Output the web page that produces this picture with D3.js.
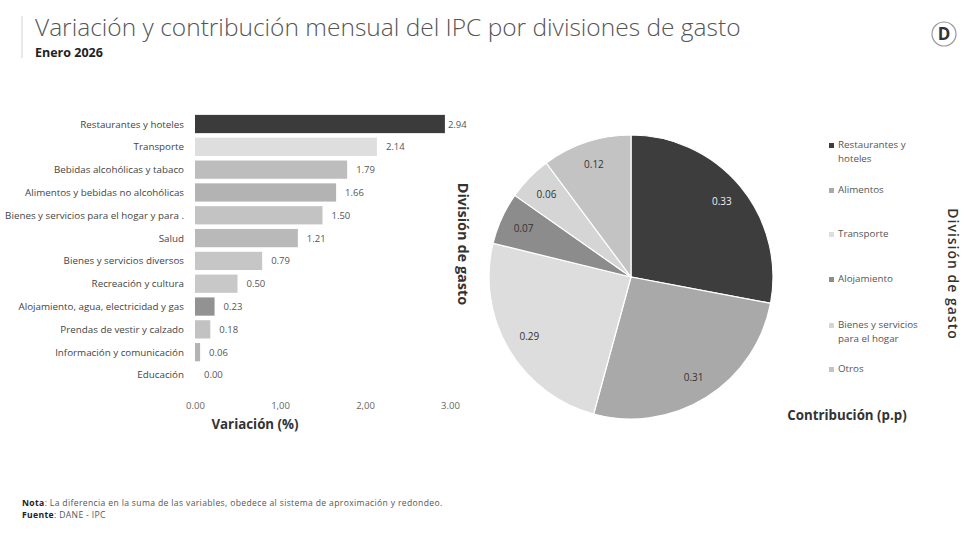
<!DOCTYPE html>
<html>
<head>
<meta charset="utf-8">
<script src="https://cdn.jsdelivr.net/npm/d3@7"></script>
<style>
  body { margin: 0; background: #fff; }
  svg { font-family: "Open Sans", "Noto Sans", sans-serif; }
</style>
</head>
<body>
<svg id="chart" width="964" height="544"></svg>
<script>
// bar chart: variación mensual (%)
const divisiones = [
  'Restaurantes y hoteles', 'Transporte', 'Bebidas alcohólicas y tabaco',
  'Alimentos y bebidas no alcohólicas', 'Bienes y servicios para el hogar y para .',
  'Salud', 'Bienes y servicios diversos', 'Recreación y cultura',
  'Alojamiento, agua, electricidad y gas', 'Prendas de vestir y calzado',
  'Información y comunicación', 'Educación'
]
const variacion = [2.94, 2.14, 1.79, 1.66, 1.50, 1.21, 0.79, 0.50, 0.23, 0.18, 0.06, 0.00]
const variacionLabels = ['2.94', '2.14', '1.79', '1.66', '1.50', '1.21', '0.79', '0.50', '0.23', '0.18', '0.06', '0.00']
const barColors = ['#3b3b3b', '#dedede', '#bdbdbd', '#b3b3b3', '#c3c3c3', '#b9b9b9',
  '#c6c6c6', '#c8c8c8', '#929292', '#c2c2c2', '#b3b3b3', '#c8c8c8']
const xTicks = [0, 1, 2, 3]
const xTickLabels = ['0.00', '1,00', '2,00', '3.00']

// pie chart: contribución (p.p)
const grupos = ['Restaurantes y hoteles', 'Alimentos', 'Transporte', 'Alojamiento', 'Bienes y servicios para el hogar', 'Otros']
const legendLines = [['Restaurantes y', 'hoteles'], ['Alimentos'], ['Transporte'], ['Alojamiento'], ['Bienes y servicios', 'para el hogar'], ['Otros']]
const contribucion = [0.33, 0.31, 0.29, 0.07, 0.06, 0.12]
const pieColors = ['#3d3d3d', '#a9a9a9', '#dddddd', '#8c8c8c', '#d5d5d5', '#c3c3c3']

const svg = d3.select('#chart')

// header
svg.append('line')
  .attr('x1', 22).attr('x2', 22).attr('y1', 16).attr('y2', 58)
  .attr('stroke', '#d0d0d0').attr('stroke-width', 1)
svg.append('text')
  .attr('x', 35).attr('y', 36)
  .attr('font-size', 24.5).attr('font-weight', 300).attr('fill', '#555')
  .text('Variación  y contribución mensual del IPC por divisiones de gasto')
svg.append('text')
  .attr('x', 35).attr('y', 57)
  .attr('font-size', 12.5).attr('font-weight', 700).attr('fill', '#222')
  .text('Enero 2026')

// logo
const logo = svg.append('g').attr('transform', 'translate(944,34)')
logo.append('circle').attr('r', 12).attr('fill', 'none').attr('stroke', '#999').attr('stroke-width', 1.2)
logo.append('text').attr('text-anchor', 'middle').attr('y', 6)
  .attr('font-size', 17).attr('font-weight', 700).attr('fill', '#333').text('D')

// bars
const x = d3.scaleLinear().domain([0, 3]).range([195, 450])
const y = d3.scaleBand().domain(divisiones).range([112.6, 386.4]).paddingInner(0.2).paddingOuter(0.1)

const bars = svg.append('g')
bars.selectAll('rect')
  .data(divisiones)
  .enter()
  .append('rect')
  .attr('x', x(0))
  .attr('y', d => y(d))
  .attr('width', (d, i) => x(variacion[i]) - x(0))
  .attr('height', y.bandwidth())
  .attr('fill', (d, i) => barColors[i])

bars.selectAll('.cat')
  .data(divisiones)
  .enter()
  .append('text')
  .attr('class', 'cat')
  .attr('x', 184)
  .attr('y', d => y(d) + y.bandwidth() / 2 + 3.5)
  .attr('text-anchor', 'end')
  .attr('font-size', 9.8)
  .attr('fill', '#444')
  .text(d => d)

bars.selectAll('.val')
  .data(divisiones)
  .enter()
  .append('text')
  .attr('class', 'val')
  .attr('x', (d, i) => x(variacion[i]) + (i === 0 ? 3 : 9))
  .attr('y', d => y(d) + y.bandwidth() / 2 + 3.5)
  .attr('font-size', 9.5)
  .attr('fill', '#555')
  .text((d, i) => variacionLabels[i])

const xAxis = d3.axisBottom(x).tickValues(xTicks).tickFormat((d, i) => xTickLabels[i]).tickSize(0)
svg.append('g')
  .attr('transform', 'translate(0,399)')
  .call(xAxis)
  .call(g => g.select('.domain').remove())
  .call(g => g.selectAll('text').attr('font-size', 9.5).attr('fill', '#666').attr('font-family', '"Open Sans", sans-serif'))

svg.append('text')
  .attr('x', 255).attr('y', 429)
  .attr('text-anchor', 'middle')
  .attr('font-size', 13.3).attr('font-weight', 700).attr('fill', '#333')
  .text('Variación (%)')

svg.append('text')
  .attr('transform', 'translate(458,244) rotate(90)')
  .attr('text-anchor', 'middle')
  .attr('font-size', 14.5).attr('font-weight', 700).attr('fill', '#333')
  .text('División de gasto')

// pie
const cx = 631
const cy = 277
const r = 142
const pie = d3.pie().sort(null).value(d => d)
const arc = d3.arc().innerRadius(0).outerRadius(r)
const labelArc = d3.arc().innerRadius(118).outerRadius(118)

const pieG = svg.append('g').attr('transform', `translate(${cx},${cy})`)
const arcs = pie(contribucion)
pieG.selectAll('path')
  .data(arcs)
  .enter()
  .append('path')
  .attr('d', arc)
  .attr('fill', (d, i) => pieColors[i])
  .attr('stroke', '#fff')
  .attr('stroke-width', 1.2)

pieG.selectAll('text')
  .data(arcs)
  .enter()
  .append('text')
  .attr('transform', d => `translate(${labelArc.centroid(d)})`)
  .attr('text-anchor', 'middle')
  .attr('dy', 3.5)
  .attr('font-size', 10)
  .attr('fill', (d, i) => i === 0 ? '#eee' : '#333')
  .text(d => d.data.toFixed(2))

// legend
const legendY = [148, 193, 237, 282, 328, 372]
const legend = svg.append('g')
grupos.forEach((g, i) => {
  legend.append('rect')
    .attr('x', 829).attr('y', legendY[i] - 5)
    .attr('width', 5).attr('height', 5)
    .attr('fill', pieColors[i])
  legendLines[i].forEach((line, j) => {
    legend.append('text')
      .attr('x', 838).attr('y', legendY[i] + j * 14)
      .attr('font-size', 9.8).attr('fill', '#555')
      .text(line)
  })
})

svg.append('text')
  .attr('transform', 'translate(948,274) rotate(90)')
  .attr('text-anchor', 'middle')
  .attr('font-size', 14).attr('font-weight', 600).attr('fill', '#333')
  .attr('letter-spacing', 1)
  .text('División de gasto')

svg.append('text')
  .attr('x', 847).attr('y', 420)
  .attr('text-anchor', 'middle')
  .attr('font-size', 13.3).attr('font-weight', 700).attr('fill', '#333')
  .text('Contribución (p.p)')

// footnote
const note = svg.append('text').attr('x', 22).attr('y', 506).attr('font-size', 8.6)
  .attr('letter-spacing', 0.35).attr('fill', '#555')
note.append('tspan').attr('font-weight', 700).attr('fill', '#222').text('Nota')
note.append('tspan').text(': La diferencia en la suma de las variables, obedece al sistema de aproximación y redondeo.')
const fuente = svg.append('text').attr('x', 22).attr('y', 518).attr('font-size', 8.6)
  .attr('letter-spacing', 0.35).attr('fill', '#555')
fuente.append('tspan').attr('font-weight', 700).attr('fill', '#222').text('Fuente')
fuente.append('tspan').text(': DANE - IPC')
</script>
</body>
</html>
